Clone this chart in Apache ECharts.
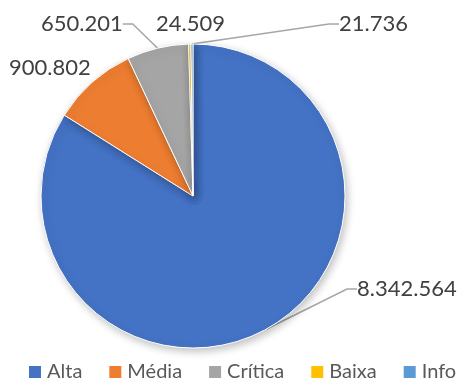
<!DOCTYPE html>
<html>
<head>
    <meta charset="utf-8">
    <title>ECharts</title>
    <script src="https://cdn.jsdelivr.net/npm/echarts/dist/echarts.min.js"></script>
    <style>
        body { margin: 0; background: #fff; }
    </style>
</head>
<body>
    <div id="main" style="width: 457px;height:385px;"></div>
    <script>
        var categories = ['Alta', 'Média', 'Crítica', 'Baixa', 'Info'];
        var values = [8342564, 900802, 650201, 24509, 21736];
        var colors = ['#4472C4', '#ED7D31', '#A5A5A5', '#FFC000', '#5B9BD5'];

        // where each value label sits (placed by hand, like the original)
        var labelPlaces = [
            { x: 357, y: 289, line: true },
            { x: 9, y: 68, line: false },
            { x: 41, y: 24, line: true },
            { x: 156, y: 24, line: false },
            { x: 339, y: 24, line: true }
        ];

        function fmt(v) {
            return String(v).replace(/\B(?=(\d{3})+(?!\d))/g, '.');
        }

        var chartDom = document.getElementById('main');
        var myChart = echarts.init(chartDom);
        var option;

        option = {
            animation: false,
            color: colors,
            legend: {
                top: 362,
                left: 27,
                width: 430,
                padding: 0,
                itemWidth: 14,
                itemHeight: 14,
                itemGap: 25,
                icon: 'rect',
                textStyle: {
                    fontFamily: 'Lato',
                    fontSize: 20,
                    color: '#595959',
                    padding: [0, 0, 0, 0]
                },
                data: categories
            },
            series: [
                {
                    type: 'pie',
                    center: [193, 196],
                    radius: 152,
                    startAngle: 90,
                    clockwise: true,
                    itemStyle: {
                        borderColor: '#fff',
                        borderWidth: 1,
                        shadowBlur: 8,
                        shadowOffsetY: 3,
                        shadowOffsetX: 2,
                        shadowColor: 'rgba(0,0,0,0.25)'
                    },
                    label: {
                        show: true,
                        position: 'outside',
                        overflow: 'none',
                        fontFamily: 'Lato',
                        fontSize: 22,
                        color: '#404040',
                        formatter: function (p) { return fmt(p.value); }
                    },
                    labelLine: {
                        show: true,
                        length: 10,
                        length2: 10,
                        lineStyle: { color: '#A6A6A6', width: 1.5 }
                    },
                    labelLayout: function (params) {
                        var pl = labelPlaces[params.dataIndex];
                        return {
                            x: pl.x,
                            y: pl.y,
                            align: 'left',
                            verticalAlign: 'middle'
                        };
                    },
                    emphasis: { disabled: true },
                    data: categories.map(function (c, i) {
                        return {
                            name: c,
                            value: values[i],
                            labelLine: { show: labelPlaces[i].line }
                        };
                    })
                }
            ]
        };

        option && myChart.setOption(option);
    </script>
</body>
</html>
